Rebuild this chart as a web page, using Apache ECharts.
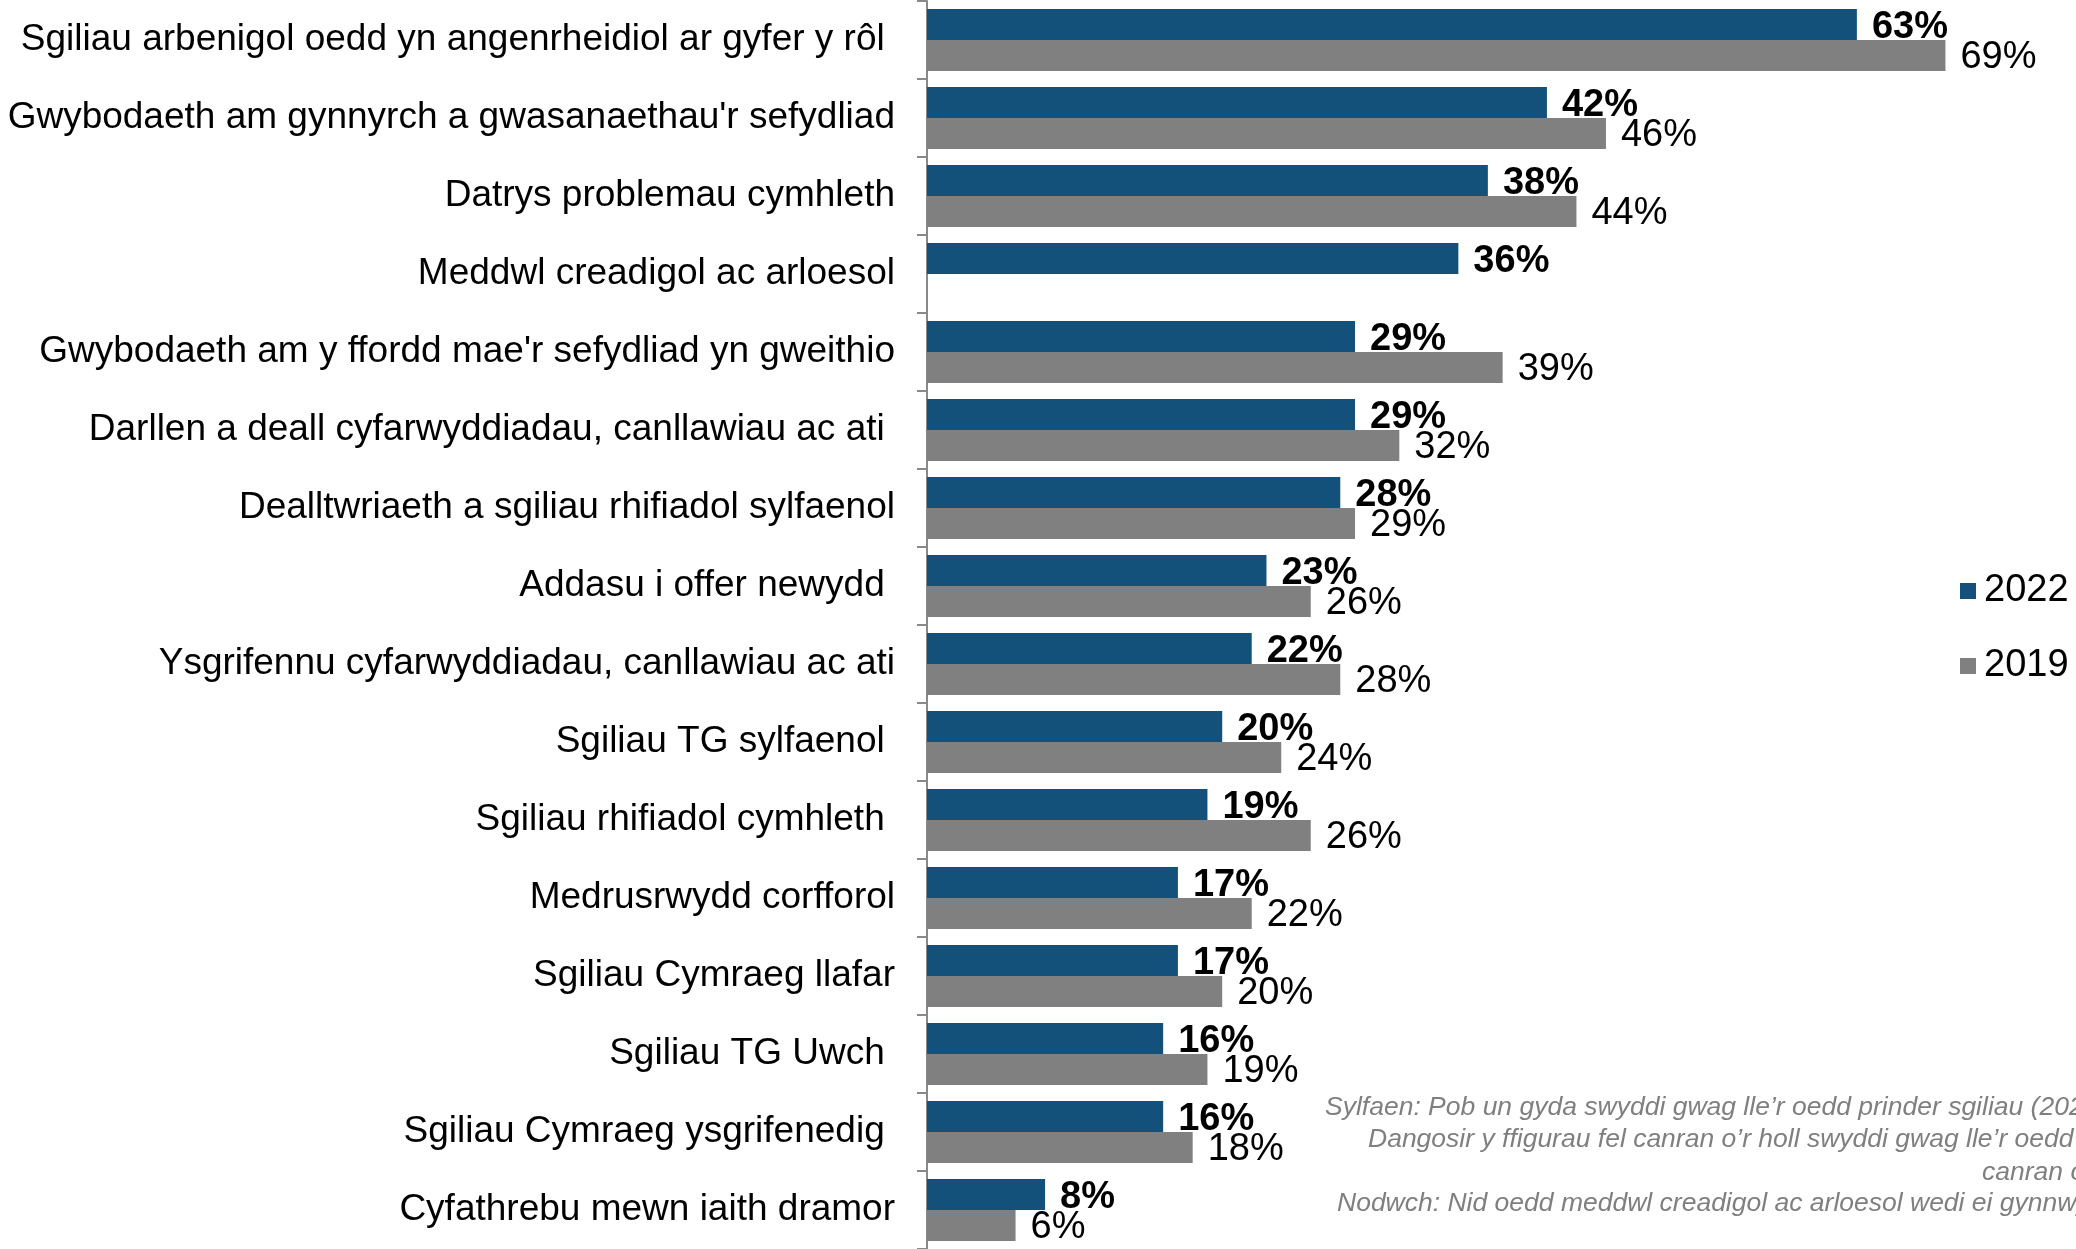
<!DOCTYPE html>
<html>
<head>
<meta charset="utf-8">
<script src="https://cdn.jsdelivr.net/npm/echarts@6/dist/echarts.min.js"></script>
<style>
  html, body { margin: 0; padding: 0; background: #fff; }
  #chart { width: 2076px; height: 1249px; }
</style>
</head>
<body>
<div id="chart"></div>
<script>
const categories = [
  'Sgiliau arbenigol oedd yn angenrheidiol ar gyfer y rôl ',
  "Gwybodaeth am gynnyrch a gwasanaethau'r sefydliad",
  'Datrys problemau cymhleth',
  'Meddwl creadigol ac arloesol',
  "Gwybodaeth am y ffordd mae'r sefydliad yn gweithio",
  'Darllen a deall cyfarwyddiadau, canllawiau ac ati ',
  'Dealltwriaeth a sgiliau rhifiadol sylfaenol',
  'Addasu i offer newydd ',
  'Ysgrifennu cyfarwyddiadau, canllawiau ac ati',
  'Sgiliau TG sylfaenol ',
  'Sgiliau rhifiadol cymhleth ',
  'Medrusrwydd corfforol',
  'Sgiliau Cymraeg llafar',
  'Sgiliau TG Uwch ',
  'Sgiliau Cymraeg ysgrifenedig ',
  'Cyfathrebu mewn iaith dramor'
]
const values2022 = [63, 42, 38, 36, 29, 29, 28, 23, 22, 20, 19, 17, 17, 16, 16, 8]
// dim heb ei gynnwys yn 2019 ar gyfer "Meddwl creadigol"
const values2019 = [69, 46, 44, null, 39, 32, 29, 26, 28, 24, 26, 22, 20, 19, 18, 6]

const footnotes = [
  'Sylfaen: Pob un gyda swyddi gwag lle’r oedd prinder sgiliau (2022',
  'Dangosir y ffigurau fel canran o’r holl swyddi gwag lle’r oedd',
  'canran o',
  'Nodwch: Nid oedd meddwl creadigol ac arloesol wedi ei gynnwys'
]

const FONT = 'Arial, "Liberation Sans", sans-serif'

const chart = echarts.init(document.getElementById('chart'))

chart.setOption({
  backgroundColor: '#ffffff',
  animation: false,
  textStyle: { fontFamily: FONT },
  legend: {
    data: ['2022', '2019'],
    orient: 'vertical',
    left: 1955,
    top: 567,
    icon: 'rect',
    itemWidth: 16,
    itemHeight: 16,
    itemGap: 37,
    textStyle: { fontSize: 38, color: '#000', fontFamily: FONT, padding: [0, 0, 0, 3] }
  },
  grid: {
    left: 927,
    top: 1,
    width: 1107,
    height: 1248,
    containLabel: false
  },
  xAxis: {
    type: 'value',
    min: 0,
    max: 75,
    show: false
  },
  yAxis: {
    type: 'category',
    data: categories,
    inverse: true,
    axisLine: { show: true, lineStyle: { color: '#898989', width: 2 } },
    axisTick: { show: true, length: 10, lineStyle: { color: '#898989', width: 2 } },
    axisLabel: {
      margin: 32,
      fontSize: 37,
      color: '#000',
      fontFamily: FONT,
      padding: [12, 0, 0, 0]
    },
    splitLine: { show: false }
  },
  series: [
    {
      name: '2022',
      type: 'bar',
      data: values2022,
      barGap: '0%',
      barCategoryGap: '20.5%',
      itemStyle: { color: '#13517a' },
      label: {
        show: true,
        position: 'right',
        distance: 15,
        offset: [0, 3],
        formatter: '{c}%',
        fontSize: 38,
        fontWeight: 'bold',
        color: '#000',
        fontFamily: FONT
      }
    },
    {
      name: '2019',
      type: 'bar',
      data: values2019,
      itemStyle: { color: '#808080' },
      label: {
        show: true,
        position: 'right',
        distance: 15,
        offset: [0, 2],
        formatter: '{c}%',
        fontSize: 38,
        color: '#000',
        fontFamily: FONT
      }
    }
  ],
  graphic: footnotes.map((t, i) => ({
    type: 'text',
    left: [1325, 1368, 1982, 1337][i],
    top: [1094, 1126, 1159, 1190][i],
    style: {
      text: t,
      fill: '#7f7f7f',
      font: 'italic 26.5px ' + FONT
    }
  }))
})
</script>
</body>
</html>
